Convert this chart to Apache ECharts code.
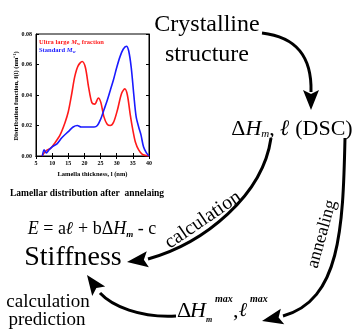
<!DOCTYPE html>
<html>
<head>
<meta charset="utf-8">
<script src="https://cdn.jsdelivr.net/npm/echarts@6/dist/echarts.min.js"></script>
<style>
html, body { margin: 0; padding: 0; background: #fff; }
#main { width: 358px; height: 333px; }
</style>
</head>
<body>
<div id="main"></div>
<script>
"use strict";
// 片晶厚度分布 (nm)
var redX = [6.8, 7.5, 8.5, 9.5, 11, 12.5, 14, 15, 16, 17, 18, 19.3, 20.3, 21.3, 22.3, 23.2, 24.3, 25.1, 26, 27, 28, 29, 30.2, 31.5, 32.5, 33.3, 34.2, 35, 35.8, 36.8, 38, 40];
var redY = [0, 0.002, 0.004, 0.005, 0.009, 0.014, 0.022, 0.029, 0.040, 0.052, 0.059, 0.062, 0.058, 0.045, 0.035, 0.034, 0.038, 0.035, 0.026, 0.021, 0.020, 0.022, 0.030, 0.041, 0.044, 0.040, 0.027, 0.017, 0.009, 0.004, 0.001, 0];
var blueX = [7, 7.5, 8.2, 9, 10, 11.5, 13, 15, 16.5, 17.8, 19, 21, 23, 24, 25, 26, 27, 28, 29, 30, 31, 32, 33, 33.7, 34.5, 35.3, 36, 36.8, 37.5, 38.3, 39.2, 40];
var blueY = [0, 0.004, 0.002, 0.004, 0.006, 0.008, 0.012, 0.016, 0.019, 0.020, 0.019, 0.019, 0.019, 0.020, 0.024, 0.030, 0.036, 0.043, 0.050, 0.058, 0.065, 0.070, 0.072, 0.069, 0.058, 0.040, 0.026, 0.019, 0.014, 0.006, 0.002, 0];
var seriesNames = ['Ultra large Mw fraction', 'Standard Mw'];
var xRange = [5, 40];
var yRange = [0, 0.08];

var SERIF = 'Liberation Serif';

function pairs(xs, ys) {
    return xs.map(function(x, i) { return [x, ys[i]]; });
}

// 文字
function txt(text, x, y, size, opt) {
    opt = opt || {};
    return {
        type: 'text',
        x: x,
        y: y,
        rotation: opt.rotation || 0,
        style: {
            text: text,
            fontFamily: SERIF,
            fontSize: size,
            fontStyle: opt.italic ? 'italic' : 'normal',
            fontWeight: opt.bold ? 'bold' : 'normal',
            fill: opt.color || '#000',
            align: opt.align || 'center',
            textAlign: opt.align || 'center',
            verticalAlign: 'middle',
            textVerticalAlign: 'middle',
            rich: opt.rich
        }
    };
}

// 箭头曲线
function curve(p0, c1, c2, p3) {
    return {
        type: 'bezierCurve',
        shape: { x1: p0[0], y1: p0[1], cpx1: c1[0], cpy1: c1[1], cpx2: c2[0], cpy2: c2[1], x2: p3[0], y2: p3[1] },
        style: { stroke: '#000', lineWidth: 3, fill: null }
    };
}

function head(tip, from, len, half) {
    var dx = tip[0] - from[0], dy = tip[1] - from[1];
    var d = Math.sqrt(dx * dx + dy * dy);
    var ux = dx / d, uy = dy / d;
    var bx = tip[0] - ux * len, by = tip[1] - uy * len;
    var nx = -uy, ny = ux;
    return {
        type: 'polygon',
        shape: { points: [
            tip,
            [bx + nx * half, by + ny * half],
            [bx + ux * 4, by + uy * 4],
            [bx - nx * half, by - ny * half]
        ] },
        style: { fill: '#000' }
    };
}

var graphics = [
    txt('Crystalline', 207, 25, 24),
    txt('structure', 207, 55, 24),
    // 顶部箭头
    curve([262, 33], [296, 37], [312, 56], [311, 92]),
    head([311, 110], [311, 90], 20, 8),
    txt('{n|Δ}{i|H}{s|m}{n|, }{l|ℓ}{n| (DSC)}', 292, 129, 22, { rich: {
        n: { fontFamily: SERIF, fontSize: 22, lineHeight: 26 },
        i: { fontFamily: SERIF, fontSize: 22, fontStyle: 'italic', lineHeight: 26 },
        l: { fontFamily: SERIF, fontSize: 22, fontStyle: 'italic', fontWeight: 'bold', lineHeight: 26 },
        s: { fontFamily: SERIF, fontSize: 11, fontStyle: 'italic', lineHeight: 11, verticalAlign: 'bottom', padding: [0, 0, 2, 0] }
    } }),
    // calculation 弧线
    curve([271, 138], [263, 195], [205, 243], [148, 259]),
    head([127, 262], [150, 259], 21, 8),
    txt('calculation', 203, 220, 20, { rotation: 0.6 }),
    // annealing 弧线
    curve([345, 138], [343, 230], [340, 300], [283, 316]),
    head([262, 321], [285, 316], 21, 8),
    txt('annealing', 322, 234, 18, { rotation: 1.3 }),
    // prediction 弧线
    curve([176, 316], [140, 318], [112, 306], [100, 293]),
    head([87, 275], [100, 293], 20, 8),
    txt('{i|E}{n| = a}{l|ℓ}{n| + bΔ}{i|H}{s|m}{n| - c}', 92, 229, 18, { rich: {
        n: { fontFamily: SERIF, fontSize: 18, lineHeight: 22 },
        i: { fontFamily: SERIF, fontSize: 18, fontStyle: 'italic', lineHeight: 22 },
        l: { fontFamily: SERIF, fontSize: 18, fontStyle: 'italic', fontWeight: 'bold', lineHeight: 22 },
        s: { fontFamily: SERIF, fontSize: 9, fontStyle: 'italic', fontWeight: 'bold', lineHeight: 9, verticalAlign: 'bottom', padding: [0, 0, 1, 0] }
    } }),
    txt('Stiffness', 73, 258, 28),
    txt('calculation', 48, 302, 19),
    txt('prediction', 47, 320, 19),
    // 底部 ΔHm max, l max
    txt('Δ', 177, 311, 22, { align: 'left' }),
    txt('H', 190, 311, 22, { align: 'left', italic: true }),
    txt('m', 206, 320, 8, { align: 'left', italic: true, bold: true }),
    txt('max', 215, 299, 10, { align: 'left', italic: true, bold: true }),
    txt(',', 233, 311, 22, { align: 'left' }),
    txt('ℓ', 239, 311, 20, { align: 'left', italic: true, bold: true }),
    txt('max', 250, 299, 10, { align: 'left', italic: true, bold: true }),
    txt('Lamellar distribution after  annelaing', 87, 194, 9.5, { bold: true }),
    // 纵轴标题
    txt('Distribution function, f(l) (nm⁻¹)', 16, 96, 6.5, { bold: true, rotation: Math.PI / 2 })
];

var myChart = echarts.init(document.getElementById('main'));
var axisFont = { fontFamily: SERIF, fontSize: 6, fontWeight: 'bold', color: '#000' };
var option = {
    backgroundColor: '#fff',
    animation: false,
    grid: { left: 36, top: 34, width: 113, height: 122, show: true, borderColor: '#000', borderWidth: 1 },
    legend: {
        left: 34, top: 39, orient: 'vertical', itemWidth: 0, itemHeight: 0, itemGap: 1,
        padding: 0,
        icon: 'none',
        formatter: function(name) {
            return name.replace('Mw', '{i|M}{s|w}');
        },
        textStyle: {
            fontFamily: SERIF, fontSize: 6.5, fontWeight: 'bold', padding: 0,
            rich: {
                i: { fontFamily: SERIF, fontSize: 6.5, fontWeight: 'bold', fontStyle: 'italic' },
                s: { fontFamily: SERIF, fontSize: 4.5, fontWeight: 'bold', verticalAlign: 'bottom', lineHeight: 5 }
            }
        },
        data: [
            { name: seriesNames[0], textStyle: { color: '#ff1a1a' } },
            { name: seriesNames[1], textStyle: { color: '#1a1aff' } }
        ]
    },
    xAxis: [{
        type: 'value', position: 'bottom', min: xRange[0], max: xRange[1], interval: 5,
        name: 'Lamella thickness, l (nm)', nameLocation: 'middle', nameGap: 15,
        nameTextStyle: { fontFamily: SERIF, fontSize: 6.5, fontWeight: 'bold', color: '#000' },
        axisLine: { lineStyle: { color: '#000', width: 1 } },
        axisTick: { inside: true, length: 3, lineStyle: { color: '#000' } },
        axisLabel: Object.assign({ margin: 4 }, axisFont),
        splitLine: { show: false }
    }, {
        type: 'value', position: 'top', min: xRange[0], max: xRange[1], interval: 5,
        axisLine: { lineStyle: { color: '#000' } },
        axisTick: { inside: true, length: 3, lineStyle: { color: '#000' } },
        axisLabel: { show: false }, splitLine: { show: false }
    }],
    yAxis: [{
        type: 'value', position: 'left', min: yRange[0], max: yRange[1], interval: 0.02,
        axisLine: { show: true, lineStyle: { color: '#000', width: 1 } },
        axisTick: { show: true, inside: true, length: 3, lineStyle: { color: '#000' } },
        axisLabel: Object.assign({ margin: 4, formatter: function(v) { return v.toFixed(2); } }, axisFont),
        splitLine: { show: false }
    }, {
        type: 'value', position: 'right', min: yRange[0], max: yRange[1], interval: 0.02,
        axisLine: { show: true, lineStyle: { color: '#000' } },
        axisTick: { show: true, inside: true, length: 3, lineStyle: { color: '#000' } },
        axisLabel: { show: false }, splitLine: { show: false }
    }],
    series: [{
        name: seriesNames[0], type: 'line', smooth: 0.3, symbol: 'none',
        lineStyle: { color: '#ff1a1a', width: 1.6 }, itemStyle: { color: '#ff1a1a' },
        data: pairs(redX, redY)
    }, {
        name: seriesNames[1], type: 'line', smooth: 0.3, symbol: 'none',
        lineStyle: { color: '#1a1aff', width: 1.6 }, itemStyle: { color: '#1a1aff' },
        data: pairs(blueX, blueY)
    }],
    graphic: graphics
};
myChart.setOption(option);
</script>
</body>
</html>
